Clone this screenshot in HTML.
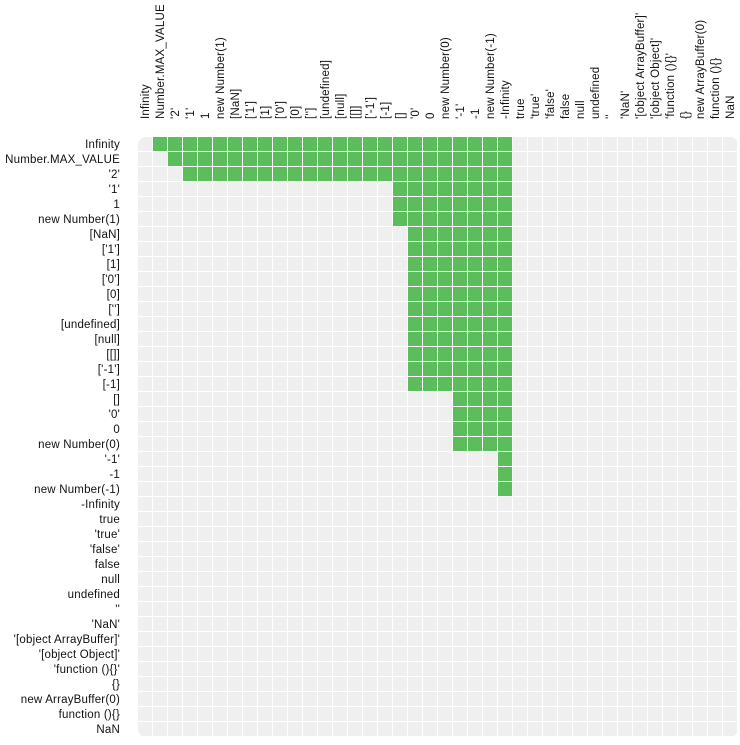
<!DOCTYPE html>
<html><head><meta charset="utf-8"><style>
body{margin:0;background:#fff;width:740px;height:740px;overflow:hidden}
svg text{font-family:"Liberation Sans",sans-serif;font-size:11.5px;letter-spacing:0.2px;fill:#111}
</style></head><body>
<svg id="chart" width="740" height="740" xmlns="http://www.w3.org/2000/svg"></svg>
<script>
const labels = ["Infinity","Number.MAX_VALUE","'2'","'1'","1","new Number(1)","[NaN]","['1']","[1]","['0']","[0]","['']","[undefined]","[null]","[[]]","['-1']","[-1]","[]","'0'","0","new Number(0)","'-1'","-1","new Number(-1)","-Infinity","true","'true'","'false'","false","null","undefined","''","'NaN'","'[object ArrayBuffer]'","'[object Object]'","'function (){}'","{}","new ArrayBuffer(0)","function (){}","NaN"];
// per-row true-range of column indices (-1 = none)
const rowStart = [1,2,3,17,17,17,18,18,18,18,18,18,18,18,18,18,18,21,21,21,21,24,24,24,-1,-1,-1,-1,-1,-1,-1,-1,-1,-1,-1,-1,-1,-1,-1,-1];
const rowEnd   = [24,24,24,24,24,24,24,24,24,24,24,24,24,24,24,24,24,24,24,24,24,24,24,24,-1,-1,-1,-1,-1,-1,-1,-1,-1,-1,-1,-1,-1,-1,-1,-1];
const NS="http://www.w3.org/2000/svg";
const svg=document.getElementById('chart');
const x0=138,y0=137,cs=15;
const xPos=i=>x0+i*cs, yPos=i=>y0+i*cs;
const n=labels.length;
const clip=document.createElementNS(NS,'clipPath');clip.setAttribute('id','cp');
const cr=document.createElementNS(NS,'rect');
cr.setAttribute('x',x0);cr.setAttribute('y',y0);cr.setAttribute('width',n*cs);cr.setAttribute('height',n*cs);cr.setAttribute('rx',8);
clip.appendChild(cr);svg.appendChild(clip);
const g=document.createElementNS(NS,'g');g.setAttribute('clip-path','url(#cp)');svg.appendChild(g);
for(let r=0;r<n;r++){
  for(let c=0;c<n;c++){
    const on=rowStart[r]>=0&&c>=rowStart[r]&&c<=rowEnd[r];
    const rect=document.createElementNS(NS,'rect');
    rect.setAttribute('x',xPos(c));rect.setAttribute('y',yPos(r));
    rect.setAttribute('width',cs-1);rect.setAttribute('height',cs-1);
    rect.setAttribute('fill',on?'#5cbd5c':'#efefef');
    
    
    g.appendChild(rect);
  }
}
for(let i=0;i<n;i++){
  const t=document.createElementNS(NS,'text');
  t.setAttribute('x',120);t.setAttribute('y',yPos(i)+11);t.setAttribute('text-anchor','end');
  t.textContent=labels[i];
  
  
  svg.appendChild(t);
  const tc=document.createElementNS(NS,'text');
  const cx=xPos(i)+11, cy=119;
  tc.setAttribute('x',cx);tc.setAttribute('y',cy);
  tc.setAttribute('transform','rotate(-90 '+cx+' '+cy+')');
  tc.textContent=labels[i];
  
  
  svg.appendChild(tc);
}
</script>
</body></html>
